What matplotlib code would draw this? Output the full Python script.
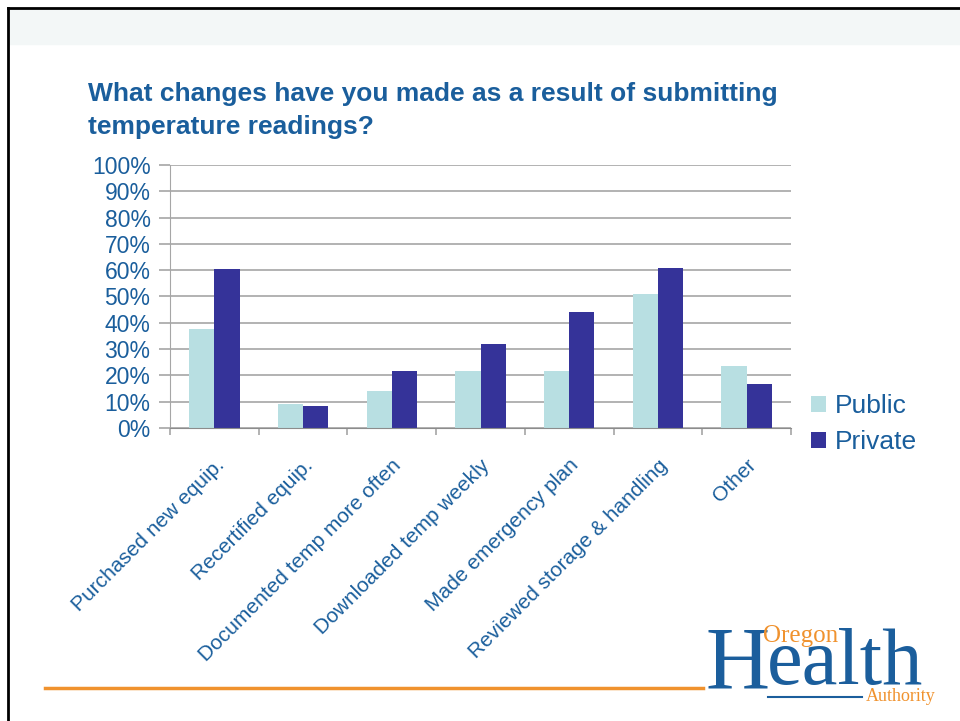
import matplotlib
matplotlib.use("Agg")
import matplotlib.pyplot as plt
import numpy as np
from matplotlib.lines import Line2D
from matplotlib.patches import Rectangle

# survey answers (share of respondents)
categories = ["Purchased new equip.", "Recertified equip.", "Documented temp more often",
              "Downloaded temp weekly", "Made emergency plan", "Reviewed storage & handling", "Other"]
public = [0.376, 0.093, 0.141, 0.217, 0.216, 0.508, 0.235]
private = [0.604, 0.084, 0.217, 0.319, 0.440, 0.610, 0.169]

blue_txt = "#1A5E9C"
c_public = "#B8DFE2"
c_private = "#353399"
orange = "#F0922E"

plt.rcParams['font.family'] = ['Liberation Sans', 'DejaVu Sans']

W, H = 960, 721
fig = plt.figure(figsize=(9.6, 7.21), dpi=100)

def fx(px):
    return px / W

def fy(py):
    return 1 - py / H

# slide frame and header band
fig.patches.append(Rectangle((fx(8), fy(44)), 1, 36 / H, transform=fig.transFigure,
                             color="#F3F7F7", zorder=0))
fig.add_artist(Line2D([fx(8), fx(8)], [0, fy(8)], color="black", lw=2, transform=fig.transFigure))
fig.add_artist(Line2D([fx(8), 1], [fy(8), fy(8)], color="black", lw=2, transform=fig.transFigure))

# title (two lines)
fig.text(fx(88), fy(101), "What changes have you made as a result of submitting",
         fontsize=19, fontweight="bold", color=blue_txt, va="baseline", ha="left")
fig.text(fx(88), fy(134), "temperature readings?",
         fontsize=19, fontweight="bold", color=blue_txt, va="baseline", ha="left")

ax = fig.add_axes([fx(170), fy(428), 621 / W, 263 / H])
x = np.arange(len(categories))
w = 0.285
ax.bar(x - w/2, public, w, color=c_public, label="Public", zorder=2)
ax.bar(x + w/2, private, w, color=c_private, label="Private", zorder=2)

ax.set_xlim(-0.5, len(categories) - 0.5)
ax.set_ylim(0, 1)
yt = np.arange(0, 1.01, 0.1)
ax.set_yticks(yt)
ax.set_yticklabels([f"{int(round(v*100))}%" for v in yt])
ax.yaxis.grid(True, color="#A6A6A6", lw=1.2, zorder=0)
ax.set_axisbelow(True)
for s in ["top", "right"]:
    ax.spines[s].set_visible(False)
ax.spines["left"].set_color("#A6A6A6")
ax.spines["bottom"].set_color("#8C8C8C")
ax.tick_params(axis="y", colors="#A6A6A6", labelcolor=blue_txt, labelsize=16.5, length=8, width=1.2, pad=6)

# group separators as major ticks, category names on minor ticks
ax.set_xticks(np.arange(-0.5, len(categories), 1))
ax.set_xticklabels([])
ax.tick_params(axis="x", colors="#A6A6A6", length=5, width=1.2)
ax.set_xticks(x, minor=True)
ax.set_xticklabels(categories, minor=True, rotation=45, ha="right", rotation_mode="anchor",
                   fontsize=15, color=blue_txt)
ax.tick_params(axis="x", which="minor", length=0, pad=20)

leg = ax.legend(loc="center left", bbox_to_anchor=(fx(811), fy(424)), bbox_transform=fig.transFigure,
                frameon=False, fontsize=19, borderpad=0, borderaxespad=0,
                handlelength=0.55, handleheight=0.55, handletextpad=0.35, labelspacing=0.45)
for t in leg.get_texts():
    t.set_color(blue_txt)

# footer line and logo
fig.add_artist(Line2D([fx(45), fx(703)], [fy(688), fy(688)], color=orange, lw=2.5,
                      transform=fig.transFigure))
fig.add_artist(Line2D([fx(768), fx(862)], [fy(697), fy(697)], color="#1B5E9C", lw=1.5,
                      transform=fig.transFigure))
fig.text(fx(705), fy(688), "H", fontsize=64, family="Liberation Serif", color="#1B5E9C",
         ha="left", va="baseline")
fig.text(fx(767), fy(684), "ealth", fontsize=58, family="Liberation Serif", color="#1B5E9C",
         ha="left", va="baseline")
fig.text(fx(763), fy(642), "Oregon", fontsize=18, family="Liberation Serif", color=orange,
         ha="left", va="baseline")
fig.text(fx(936), fy(701), "Authority", fontsize=13, family="Liberation Serif", color=orange,
         ha="right", va="baseline")

fig.savefig("out.png", dpi=100)
